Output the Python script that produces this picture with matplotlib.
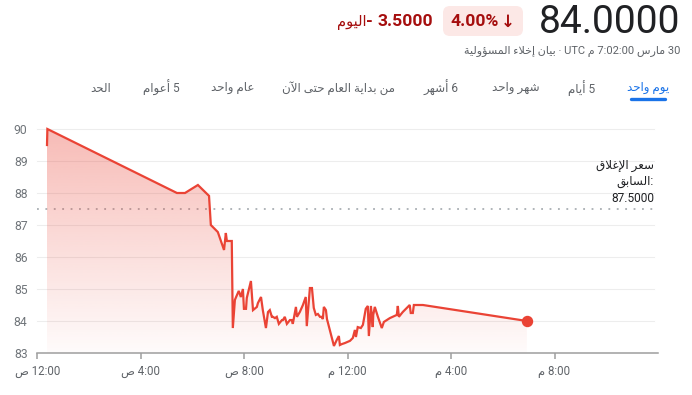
import numpy as np
import matplotlib
matplotlib.use("Agg")
import matplotlib.pyplot as plt
from matplotlib.patches import FancyBboxPatch, Polygon

plt.rcParams['font.family'] = ['Roboto', 'DejaVu Sans']

# intraday price, hours since midnight UTC
hours = [0.375, 0.39, 5.40, 5.71, 6.21, 6.64, 6.71, 6.98, 7.22, 7.29, 7.33, 7.52,
         7.56, 7.64, 7.72, 7.79, 7.87, 7.95, 7.99, 8.07, 8.10, 8.26, 8.34, 8.49,
         8.53, 8.65, 8.72, 8.84, 8.92, 8.99, 9.07, 9.11, 9.19, 9.26, 9.34, 9.46,
         9.50, 9.57, 9.65, 9.77, 9.84, 9.88, 10.00, 10.04, 10.15, 10.27, 10.38, 10.42,
         10.54, 10.62, 10.69, 10.77, 10.85, 10.93, 11.00, 11.04, 11.08, 11.16, 11.20, 11.23,
         11.31, 11.47, 11.58, 11.66, 11.70, 11.78, 11.89, 12.09, 12.20, 12.28, 12.32, 12.39,
         12.51, 12.59, 12.70, 12.78, 12.82, 12.90, 12.97, 12.99, 13.05, 13.17, 13.32, 13.40,
         13.63, 13.90, 13.94, 13.98, 14.13, 14.40, 14.44, 14.52, 14.56, 14.91, 18.93]
prices = [89.50, 90.00, 88.00, 88.00, 88.25, 87.91, 87.00, 86.78, 86.22, 86.75, 86.50, 86.50,
          83.78, 84.66, 84.81, 84.94, 84.75, 85.00, 84.38, 84.38, 84.72, 85.25, 84.34, 84.44,
          84.56, 84.75, 84.34, 83.78, 84.28, 84.34, 84.13, 84.13, 84.09, 84.13, 83.91, 84.03,
          84.03, 84.13, 83.91, 84.03, 84.03, 83.91, 84.44, 84.13, 84.28, 84.50, 84.75, 83.84,
          85.03, 85.03, 84.41, 84.19, 84.22, 84.13, 84.13, 84.06, 84.44, 84.34, 84.06, 83.97,
          83.72, 83.22, 83.41, 83.53, 83.25, 83.28, 83.31, 83.38, 83.47, 83.72, 83.50, 83.81,
          83.78, 83.88, 84.38, 84.47, 83.53, 84.47, 83.81, 84.19, 84.44, 84.13, 83.78, 83.97,
          84.09, 84.19, 84.47, 84.13, 84.28, 84.50, 84.25, 84.25, 84.50, 84.50, 84.00]
prev_close = 87.5
y_ticks = [83, 84, 85, 86, 87, 88, 89, 90]
x_ticks = [0, 4, 8, 12, 16, 20]
x_labels = ["12:00", "4:00", "8:00", "12:00", "4:00", "8:00"]
x_suffix = ["ص", "ص", "ص", "م", "م", "م"]
tabs = ["يوم واحد", "5 أيام", "شهر واحد", "6 أشهر", "من بداية العام حتى الآن",
        "عام واحد", "5 أعوام", "الحد"]
tab_x = [648, 582, 516, 441, 338, 233, 161, 101]

# matplotlib has no Arabic shaping: pick presentation forms and reverse by hand
AR_FORMS = {
    'ء': (0xFE80, 1), 'آ': (0xFE81, 2), 'أ': (0xFE83, 2), 'ؤ': (0xFE85, 2),
    'إ': (0xFE87, 2), 'ا': (0xFE8D, 2), 'ب': (0xFE8F, 4), 'ة': (0xFE93, 2),
    'ت': (0xFE95, 4), 'ح': (0xFEA1, 4), 'خ': (0xFEA5, 4), 'د': (0xFEA9, 2),
    'ر': (0xFEAD, 2), 'س': (0xFEB1, 4), 'ش': (0xFEB5, 4), 'ص': (0xFEB9, 4),
    'ع': (0xFEC9, 4), 'غ': (0xFECD, 4), 'ق': (0xFED5, 4), 'ل': (0xFEDD, 4),
    'م': (0xFEE1, 4), 'ن': (0xFEE5, 4), 'ه': (0xFEE9, 4), 'و': (0xFEED, 2),
    'ى': (0xFEEF, 2), 'ي': (0xFEF1, 4),
}
LAM_ALEF = {'آ': 0xFEF5, 'أ': 0xFEF7, 'إ': 0xFEF9, 'ا': 0xFEFB}


def ar(text):
    toks = []
    i = 0
    while i < len(text):
        c = text[i]
        if c == 'ل' and i + 1 < len(text) and text[i + 1] in LAM_ALEF:
            toks.append((c, LAM_ALEF[text[i + 1]], 2))
            i += 2
            continue
        base, n = AR_FORMS.get(c, (None, 0))
        toks.append((c, base, n))
        i += 1
    out = []
    for k, (c, base, n) in enumerate(toks):
        if base is None:
            out.append(c)
            continue
        joins_prev = k > 0 and toks[k - 1][2] == 4
        joins_next = n == 4 and k + 1 < len(toks) and toks[k + 1][2] >= 2
        if n == 1:
            form = 0
        elif joins_prev and joins_next:
            form = 3
        elif joins_prev:
            form = 1
        elif joins_next:
            form = 2
        else:
            form = 0
        out.append(chr(base + form))
    return ''.join(reversed(out))


def ar_mixed(text):
    # "5 أيام" -> the number sits on the right in an RTL line
    parts = text.split(" ", 1)
    if len(parts) == 2 and parts[0].isdigit():
        return ar(parts[1]) + " " + parts[0]
    return ar(text)


red = "#ea4335"
W, H = 692, 395
fig = plt.figure(figsize=(W / 100, H / 100), dpi=100)

x0, x1, y_top, y_bot = 37.3, 658.0, 129.0, 353.0
ax = fig.add_axes([x0 / W, 1 - y_bot / H, (x1 - x0) / W, (y_bot - y_top) / H])
ax.set_xlim(0, 24)
ax.set_ylim(83, 90)

grid_end = 23.85
for v in y_ticks[1:]:
    ax.plot([0, grid_end], [v, v], color="#ededed", lw=0.8, zorder=1, clip_on=False)
ax.plot([0, grid_end], [prev_close, prev_close], color="#9aa0a6", lw=1.1,
        ls=(0, (1.2, 4.3)), zorder=2)

# gradient fill under the price line
poly = Polygon(list(zip(hours, prices)) + [(hours[-1], 83), (hours[0], 83)],
               closed=True, fc="none", ec="none")
ax.add_patch(poly)
grad = np.linspace(0.36, 0.02, 256).reshape(-1, 1)
rgba = np.zeros((256, 1, 4))
rgba[..., :3] = matplotlib.colors.to_rgb(red)
rgba[..., 3] = grad
img = ax.imshow(rgba, extent=[0, 24, 83, 90], aspect="auto", origin="upper", zorder=2)
img.set_clip_path(poly)

ax.plot(hours, prices, color=red, lw=1.6, zorder=4, clip_on=False, solid_joinstyle="miter")
ax.plot(hours[-1], prices[-1], "o", color=red, ms=7.2, zorder=5, clip_on=False)

for s in ["top", "right", "left"]:
    ax.spines[s].set_visible(False)
ax.spines["bottom"].set_color("#9e9e9e")
ax.spines["bottom"].set_linewidth(1.1)
ax.set_yticks(y_ticks)
ax.set_yticklabels([str(v) for v in y_ticks])
ax.tick_params(axis="y", length=0, pad=7, labelsize=8.8, labelcolor="#70757a")
ax.set_xticks(x_ticks)
ax.set_xticklabels([ar(s) + " " + l for l, s in zip(x_labels, x_suffix)])
ax.tick_params(axis="x", length=4.5, width=1.1, color="#9e9e9e", pad=4,
               labelsize=8.3, labelcolor="#5f6368")

# header / tabs / notes drawn in pixel coordinates
ov = fig.add_axes([0, 0, 1, 1], zorder=10)
ov.set_xlim(0, W)
ov.set_ylim(H, 0)
ov.axis("off")

note_lines = [ar("سعر الإغلاق"), ar("السابق") + ":", "87.5000"]
for ln, ny in zip(note_lines, [165, 182, 198]):
    ov.text(654, ny, ln, ha="right", va="center", fontsize=8.6, color="#202124")

ov.text(680, 33, "84.0000", ha="right", va="baseline", fontsize=28, color="#202124")
ov.add_patch(FancyBboxPatch((443, 6), 80, 30, boxstyle="round,pad=0,rounding_size=7",
                            fc="#fce8e6", ec="none"))
ov.text(450, 26.5, "4.00%", ha="left", va="baseline", fontsize=12.6, fontweight="bold",
        color="#a50e0e")
ov.text(515, 26.5, "↓", ha="right", va="baseline", fontsize=12, fontweight="bold",
        color="#a50e0e")
ov.text(433, 26.5, "3.5000", ha="right", va="baseline", fontsize=12.6, fontweight="bold",
        color="#a50e0e")
ov.text(373, 26.5, "-", ha="right", va="baseline", fontsize=12.6, fontweight="bold",
        color="#a50e0e")
ov.text(366, 26.5, ar("اليوم"), ha="right", va="baseline", fontsize=10.5, color="#a50e0e")

sub = (ar("بيان إخلاء المسؤولية") + " · UTC " + ar("م") + " 7:02:00 " + ar("مارس") + " 30")
ov.text(680, 54, sub, ha="right", va="baseline", fontsize=8, color="#5f6368")

for i, (t, tx) in enumerate(zip(tabs, tab_x)):
    ov.text(tx, 88, ar_mixed(t), ha="center", va="center", fontsize=8.6,
            color="#1a73e8" if i == 0 else "#5f6368")
ov.plot([631, 665], [99, 99], color="#1a73e8", lw=2.4, solid_capstyle="round")

fig.savefig("out.png", dpi=100)
